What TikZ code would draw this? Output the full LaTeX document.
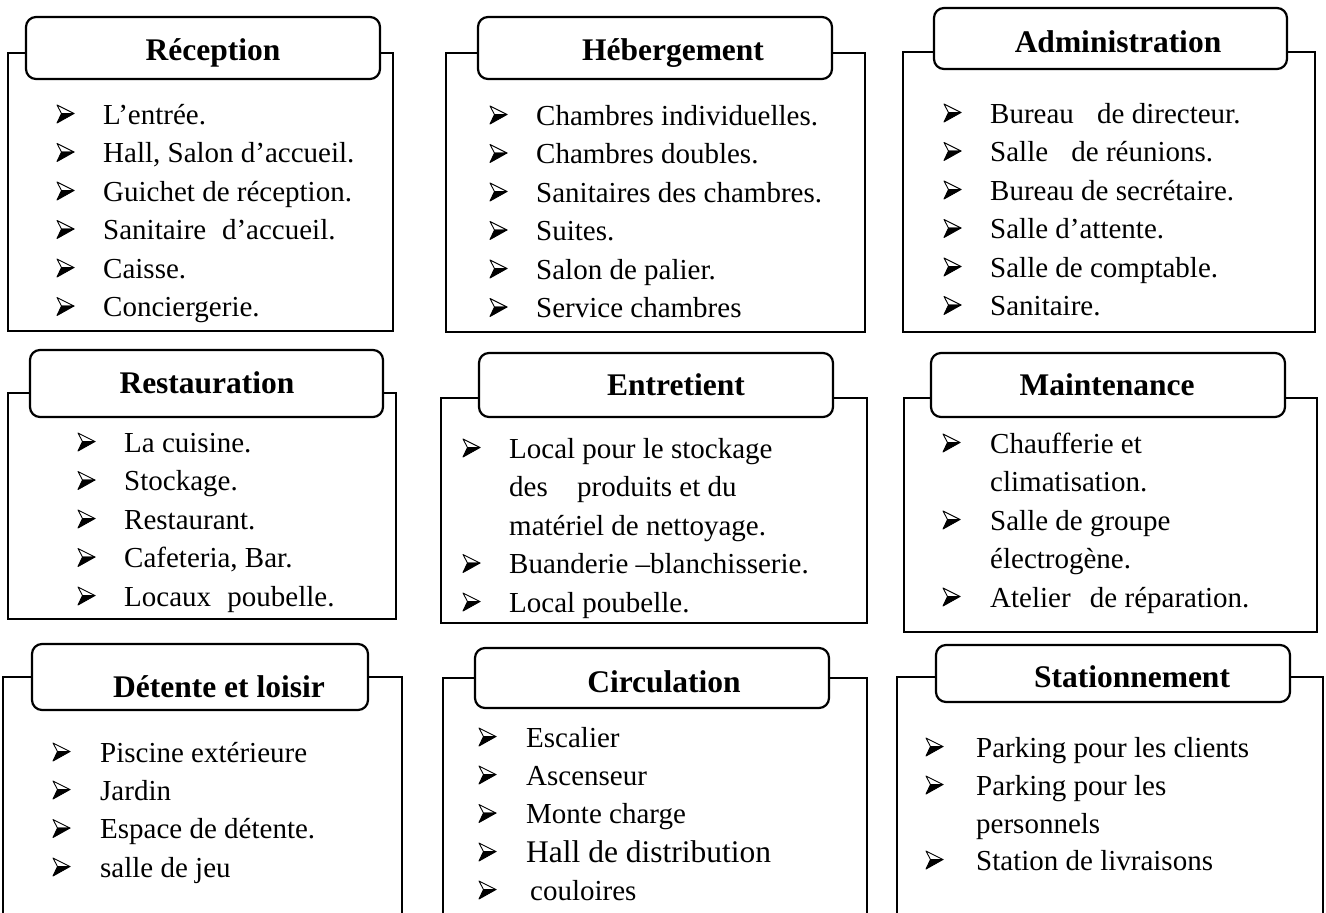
\documentclass[tikz,border=0pt]{standalone}
\usepackage{fontspec}
\setmainfont{Liberation Serif}
\newcommand{\ttlfont}{\fontsize{31.5}{31.5}\selectfont\bfseries}
\newcommand{\itmfont}{\fontsize{29}{29}\selectfont}
\newcommand{\bigitmfont}{\fontsize{31.5}{31.5}\selectfont}
\tikzset{
  panelbox/.style={draw, line width=2.2pt, inner sep=0pt, outer sep=0pt, anchor=north west},
  tabbox/.style={draw, fill=white, rounded corners=10pt, line width=2.2pt, inner sep=0pt, outer sep=0pt, anchor=north west},
  ttl/.style={font=\ttlfont, anchor=base, inner sep=0pt},
  itm/.style={font=\itmfont, anchor=base west, inner sep=0pt},
  arrowbullet/.pic={
    \filldraw[line width=0.9pt, fill=white, line join=round] (0,-19) -- (17,-10.5) -- (4.5,-10.5) -- cycle;
    \filldraw[line width=0.9pt, line join=round] (4.5,-10.5) -- (17,-10.5) -- (0,-1) -- cycle;
  },
}
% \lstitem{name}{bullet x}{text x}{baseline y}{text}
\newcommand{\lstitem}[5]{%
  \pic (#1b) at (#2,#4) {arrowbullet};
  \node[itm] (#1) at (#3,#4) {#5};}
\begin{document}
\begin{tikzpicture}[x=1pt,y=-1pt]
\useasboundingbox (0,0) rectangle (1326,913);
\clip (0,0) rectangle (1326,913);
\fill[white] (0,0) rectangle (1326,913);

% ---------- Row 1 ----------
% Reception
\node[panelbox, minimum width=385pt, minimum height=278pt] (b1) at (8,53) {};
\node[tabbox, minimum width=354pt, minimum height=62pt] (t1) at (26,17) {};
\node[ttl] (h1) at (213,60) {Réception};
\lstitem{a1}{57}{103}{124}{L’entrée.}
\lstitem{a2}{57}{103}{162.5}{Hall, Salon d’accueil.}
\lstitem{a3}{57}{103}{201}{Guichet de réception.}
\lstitem{a4}{57}{103}{239.5}{Sanitaire\hspace{8.5pt} d’accueil.}
\lstitem{a5}{57}{103}{278}{Caisse.}
\lstitem{a6}{57}{103}{316.5}{Conciergerie.}

% Hebergement
\node[panelbox, minimum width=419pt, minimum height=279pt] (b2) at (446,53) {};
\node[tabbox, minimum width=354pt, minimum height=62pt] (t2) at (478,17) {};
\node[ttl] (h2) at (673,60) {Hébergement};
\lstitem{c1}{490}{536}{125}{Chambres individuelles.}
\lstitem{c2}{490}{536}{163.5}{Chambres doubles.}
\lstitem{c3}{490}{536}{202}{Sanitaires des chambres.}
\lstitem{c4}{490}{536}{240.5}{Suites.}
\lstitem{c5}{490}{536}{279}{Salon de palier.}
\lstitem{c6}{490}{536}{317.5}{Service chambres}

% Administration
\node[panelbox, minimum width=412pt, minimum height=280pt] (b3) at (903,52) {};
\node[tabbox, minimum width=353pt, minimum height=61pt] (t3) at (934,8) {};
\node[ttl] (h3) at (1118,52) {Administration};
\lstitem{d1}{944}{990}{123}{Bureau\hspace{16pt} de directeur.}
\lstitem{d2}{944}{990}{161.5}{Salle\hspace{16pt} de réunions.}
\lstitem{d3}{944}{990}{200}{Bureau de secrétaire.}
\lstitem{d4}{944}{990}{238.5}{Salle d’attente.}
\lstitem{d5}{944}{990}{277}{Salle de comptable.}
\lstitem{d6}{944}{990}{315.5}{Sanitaire.}

% ---------- Row 2 ----------
% Restauration
\node[panelbox, minimum width=388pt, minimum height=226pt] (b4) at (8,393) {};
\node[tabbox, minimum width=353pt, minimum height=67pt] (t4) at (30,350) {};
\node[ttl] (h4) at (207,393) {Restauration};
\lstitem{e1}{78}{124}{452}{La cuisine.}
\lstitem{e2}{78}{124}{490.5}{Stockage.}
\lstitem{e3}{78}{124}{529}{Restaurant.}
\lstitem{e4}{78}{124}{567.5}{Cafeteria, Bar.}
\lstitem{e5}{78}{124}{606}{Locaux\hspace{9pt} poubelle.}

% Entretient
\node[panelbox, minimum width=426pt, minimum height=225pt] (b5) at (441,398) {};
\node[tabbox, minimum width=354pt, minimum height=64pt] (t5) at (479,353) {};
\node[ttl] (h5) at (676,395) {Entretient};
\lstitem{f1}{463}{509}{458}{Local pour le stockage}
\node[itm] (f1l2) at (509,496.5) {des\hspace{22pt} produits et du};
\node[itm] (f1l3) at (509,535) {matériel de nettoyage.};
\lstitem{f2}{463}{509}{573.5}{Buanderie –blanchisserie.}
\lstitem{f3}{463}{509}{612}{Local poubelle.}

% Maintenance
\node[panelbox, minimum width=413pt, minimum height=234pt] (b6) at (904,398) {};
\node[tabbox, minimum width=354pt, minimum height=64pt] (t6) at (931,353) {};
\node[ttl] (h6) at (1107,395) {Maintenance};
\lstitem{g1}{943}{990}{453}{Chaufferie et}
\node[itm] (g1l2) at (990,491.5) {climatisation.};
\lstitem{g2}{943}{990}{530}{Salle de groupe}
\node[itm] (g2l2) at (990,568.5) {électrogène.};
\lstitem{g3}{943}{990}{607}{Atelier\hspace{12pt} de réparation.}

% ---------- Row 3 ----------
% Detente et loisir
\node[panelbox, minimum width=399pt, minimum height=260pt] (b7) at (3,677) {};
\node[tabbox, minimum width=336pt, minimum height=66pt] (t7) at (32,644) {};
\node[ttl] (h7) at (219,697) {Détente et loisir};
\lstitem{k1}{53}{100}{762}{Piscine extérieure}
\lstitem{k2}{53}{100}{800}{Jardin}
\lstitem{k3}{53}{100}{838.5}{Espace de détente.}
\lstitem{k4}{53}{100}{877}{salle de jeu}

% Circulation
\node[panelbox, minimum width=424pt, minimum height=260pt] (b8) at (443,678) {};
\node[tabbox, minimum width=354pt, minimum height=60pt] (t8) at (475,648) {};
\node[ttl] (h8) at (664,692) {Circulation};
\lstitem{m1}{479}{526}{747}{Escalier}
\lstitem{m2}{479}{526}{785}{Ascenseur}
\lstitem{m3}{479}{526}{823.5}{Monte charge}
\pic (m4b) at (479,862) {arrowbullet};
\node[itm, font=\bigitmfont] (m4) at (526,862) {Hall de distribution};
\lstitem{m5}{479}{530}{900}{couloires}

% Stationnement
\node[panelbox, minimum width=426pt, minimum height=260pt] (b9) at (897,677) {};
\node[tabbox, minimum width=354pt, minimum height=57pt] (t9) at (936,645) {};
\node[ttl] (h9) at (1132,687) {Stationnement};
\lstitem{n1}{926}{976}{757}{Parking pour les clients}
\lstitem{n2}{926}{976}{795}{Parking pour les}
\node[itm] (n2l2) at (976,833) {personnels};
\lstitem{n3}{926}{976}{870}{Station de livraisons}
\end{tikzpicture}
\end{document}
